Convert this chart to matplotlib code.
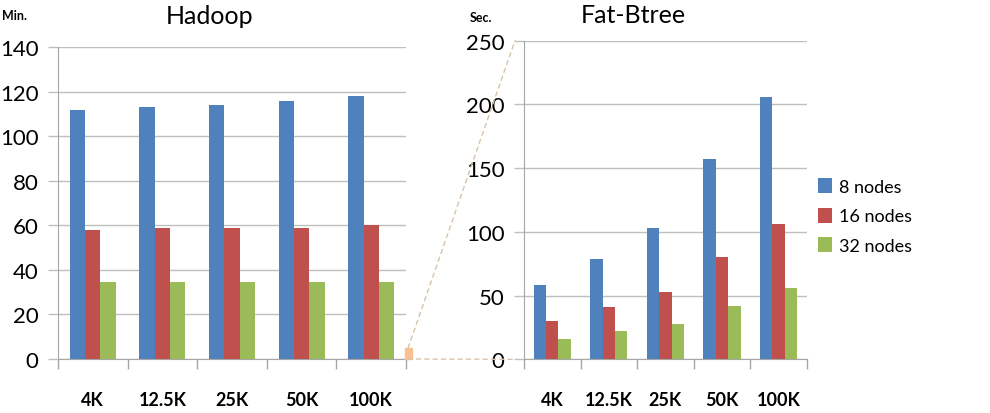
import numpy as np
import matplotlib.pyplot as plt
from matplotlib.patches import Rectangle, ConnectionPatch

plt.rcParams['font.family'] = ['Lato', 'DejaVu Sans']

sizes = ['4K', '12.5K', '25K', '50K', '100K']
series = ['8 nodes', '16 nodes', '32 nodes']
colors = ['#4F81BD', '#C0504D', '#9BBB59']

# Hadoop, minutes
hadoop_8 = [112, 113, 114, 116, 118]
hadoop_16 = [58, 59, 59, 59, 60]
hadoop_32 = [34.4, 34.4, 34.7, 34.7, 34.7]

# Fat-Btree, seconds
fbt_8 = [58, 79, 103, 157, 206]
fbt_16 = [30, 41, 53, 80, 106]
fbt_32 = [16, 22, 28, 42, 56]

# Fat-Btree max (250 sec) shown on the minute scale
zoom_mark = 5

grid_c = '#BFBFBF'
axis_c = '#A6A6A6'

fig = plt.figure(figsize=(9.9, 4.14), dpi=100)
ax1 = fig.add_axes([0.0586, 0.1304, 0.3515, 0.7529])
ax2 = fig.add_axes([0.5293, 0.1297, 0.2855, 0.7696])

def draw(ax, vals, ymax, ystep):
    x = np.arange(len(sizes))
    w = 0.22
    for k, v in enumerate(vals):
        ax.bar(x + (k - 1) * w, v, w, color=colors[k], label=series[k], zorder=3)
    ax.set_xlim(-0.5, len(sizes) - 0.5)
    ax.set_ylim(0, ymax)
    ax.set_yticks(np.arange(0, ymax + 1, ystep))
    ax.yaxis.grid(True, color=grid_c, lw=1, zorder=0)
    ax.set_xticks(x)
    ax.set_xticklabels(sizes, fontsize=13, fontweight='bold')
    ax.set_xticks(np.arange(-0.5, len(sizes)), minor=True)
    ax.tick_params(axis='x', which='major', length=0, pad=23)
    ax.tick_params(axis='x', which='minor', length=7, color=axis_c, width=1)
    ax.tick_params(axis='y', length=7, color=grid_c, width=1, pad=7, labelsize=16)
    for s in ['top', 'right']:
        ax.spines[s].set_visible(False)
    for s in ['left', 'bottom']:
        ax.spines[s].set_color(axis_c)

draw(ax1, [hadoop_8, hadoop_16, hadoop_32], 140, 20)
draw(ax2, [fbt_8, fbt_16, fbt_32], 250, 50)

ax1.add_patch(Rectangle((4.49, 0), 0.09, zoom_mark, color='#FAC090',
                        clip_on=False, zorder=4))

for ya, yb in [(zoom_mark, 1), (0, 0)]:
    con = ConnectionPatch(xyA=(4.53, ya), coordsA=ax1.transData,
                          xyB=(-0.032, yb), coordsB=ax2.transAxes,
                          color='#D8C3A8', lw=1, linestyle=(0, (3, 3)))
    fig.add_artist(con)

fig.text(0.212, 0.96, 'Hadoop', fontsize=18, ha='center', va='center')
fig.text(0.64, 0.963, 'Fat-Btree', fontsize=18, ha='center', va='center')
fig.text(0.002, 0.962, 'Min.', fontsize=9, fontweight='bold', ha='left', va='center')
fig.text(0.474, 0.956, 'Sec.', fontsize=9, fontweight='bold', ha='left', va='center')

fig.legend(*ax2.get_legend_handles_labels(), loc='center left',
           bbox_to_anchor=(0.826, 0.476), frameon=False, fontsize=13,
           handlelength=0.8, handleheight=0.9, handletextpad=0.4,
           labelspacing=0.7, borderpad=0, borderaxespad=0)

fig.savefig('out.png', dpi=100)
